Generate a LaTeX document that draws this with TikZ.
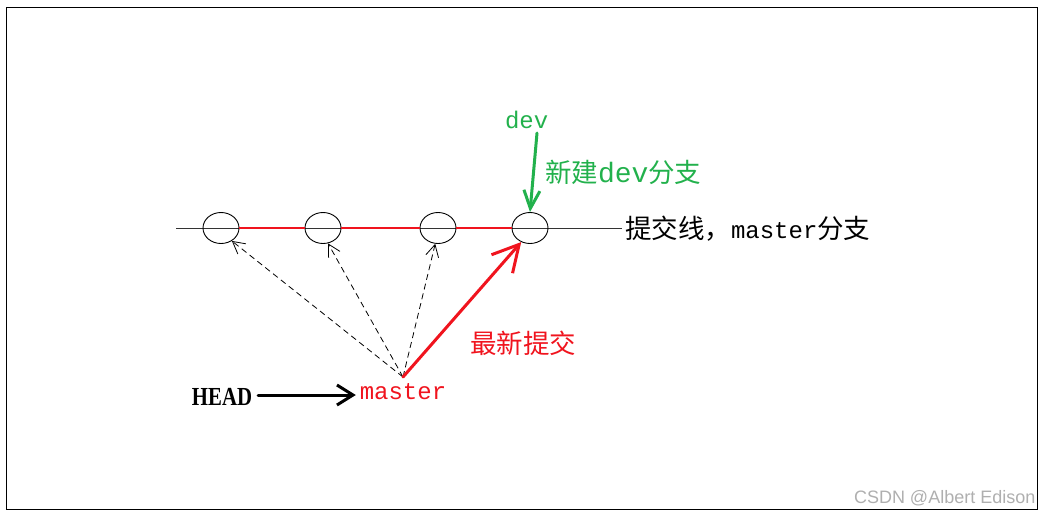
\documentclass[tikz,border=0pt]{standalone}
\usepackage{fontspec}
\newfontfamily\cjk{Noto Sans CJK SC}
\newfontfamily\monof{Liberation Mono}
\newfontfamily\headf{Liberation Serif}
\newfontfamily\wmf{Liberation Sans}
\usetikzlibrary{arrows.meta,shapes.geometric}
\definecolor{pred}{RGB}{240,20,30}
\definecolor{pgreen}{RGB}{34,177,76}
\definecolor{wmgray}{RGB}{175,175,175}
\tikzset{
  commit/.style={draw=black, ellipse, minimum width=36pt, minimum height=31pt, inner sep=0pt, line width=0.9pt},
  label/.style={inner sep=0pt, outer sep=0pt},
  cjklab/.style={label, font=\cjk\fontsize{26.5}{30}\selectfont},
  monolab/.style={label, font=\monof\fontsize{24}{28}\selectfont},
  dasharrow/.style={line width=0.8pt, dash pattern=on 6pt off 4pt, -{Straight Barb[length=12pt,width=13pt, line width=0.8pt]}},
  boldarrow/.style={line width=3pt, line cap=round}
}
\begin{document}
\begin{tikzpicture}[x=1pt,y=-1pt]
\useasboundingbox (0,0) rectangle (1043,517);
% watermark
\node[label, anchor=base west, text=wmgray, font=\wmf\fontsize{18}{20}\selectfont] (wm) at (854,503) {CSDN @Albert Edison};
% frame
\draw[line width=1.3pt] (6.5,7.5) rectangle (1037.5,509.5);
% commit line
\coordinate (L) at (176,228.5);
\coordinate (R) at (622,228.5);
\draw[line width=0.9pt, black!80] (L) -- (R);
\node[commit] (c1) at (221,228) {};
\node[commit] (c2) at (323,228) {};
\node[commit] (c3) at (438,228) {};
\node[commit] (c4) at (530,228) {};
\draw[pred, line width=2.2pt] (c1.east) -- (c2.west);
\draw[pred, line width=2.2pt] (c2.east) -- (c3.west);
\draw[pred, line width=2.2pt] (c3.east) -- (c4.west);
% labels
\node[cjklab, anchor=west] (line) at (625,229) {提交线，{\monof\fontsize{24}{28}\selectfont master}分支};
\node[monolab, anchor=base west, text=pgreen] (dev) at (505,128) {dev};
\node[cjklab, anchor=west, text=pgreen] (newdev) at (545,172) {新建{\monof\fontsize{28}{30}\selectfont dev}分支};
\node[cjklab, anchor=west, text=pred] (latest) at (470,343) {最新提交};
\node[monolab, anchor=base, text=pred] (master) at (403,399) {master};
\node[label, anchor=base, font=\headf\bfseries\fontsize{26}{30}\selectfont] (head) at (222,405) {\scalebox{0.8}[1]{HEAD}};
\coordinate (m) at (403,377);
\coordinate (devtail) at (537,133);
\coordinate (hy) at (0,395);
% pointers
\draw[dasharrow] (m) -- (c1.-50);
\draw[dasharrow] (m) -- (c2.-72);
\draw[dasharrow] (m) -- (c3.-100);
\draw[boldarrow, pred, -{Straight Barb[length=26pt,width=28pt,line width=3pt]}] (m) -- (c4.-122);
\draw[boldarrow, pgreen, -{Straight Barb[length=18pt,width=16pt,line width=3pt]}] (devtail) -- (c4.north);
\draw[boldarrow, black, -{Straight Barb[length=16pt,width=20pt,line width=3pt]}] ([xshift=6pt]head.east |- hy) -- ([xshift=-4pt]master.west |- hy);
\end{tikzpicture}
\end{document}
